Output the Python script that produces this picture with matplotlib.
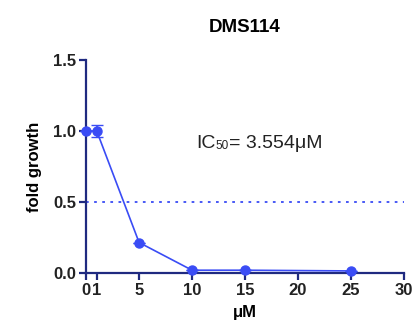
import matplotlib
matplotlib.use("Agg")
import matplotlib.pyplot as plt

plt.rcParams['font.family'] = ['Liberation Sans', 'DejaVu Sans']

conc = [0, 1, 5, 10, 15, 25]
growth = [1.0, 1.0, 0.215, 0.02, 0.02, 0.015]
err = [0.0, 0.04, 0.0, 0.0, 0.0, 0.0]
xticks = [0, 1, 5, 10, 15, 20, 25, 30]
yticks = [0.0, 0.5, 1.0, 1.5]

axis_col = "#1f2a80"
line_col = "#3a4cf5"

fig = plt.figure(figsize=(4.16, 3.22), dpi=100)
ax = fig.add_axes([0.207, 0.152, 0.764, 0.662])

ax.errorbar(conc, growth, yerr=err, color=line_col, marker='o', markersize=6.5,
            linewidth=1.2, capsize=4, elinewidth=1.2, clip_on=False, zorder=3)
ax.plot([0, 30], [0.5, 0.5], linestyle=(0, (1.5, 3)), color=line_col, linewidth=1.3)

ax.set_xlim(0, 30)
ax.set_ylim(0, 1.5)
ax.set_xticks(xticks)
ax.set_yticks(yticks)
ax.set_xticklabels([str(t) for t in xticks])
ax.set_yticklabels([f"{t:.1f}" for t in yticks])

for s in ['top', 'right']:
    ax.spines[s].set_visible(False)
for s in ['left', 'bottom']:
    ax.spines[s].set_color(axis_col)
    ax.spines[s].set_linewidth(1.6)

ax.tick_params(axis='both', colors=axis_col, width=1.6, length=5, direction='out',
               labelsize=12, labelcolor='#222222', pad=2)
for lab in ax.get_xticklabels() + ax.get_yticklabels():
    lab.set_fontweight('bold')

ax.set_xlabel("μM", fontsize=12, fontweight='bold', labelpad=5)
ax.set_ylabel("fold growth", fontsize=12, fontweight='bold', labelpad=8)
ax.set_title("DMS114", fontsize=13.5, fontweight='bold', pad=20)

# IC50 annotation, built from pieces so the subscript stays small
t1 = ax.text(10.4, 0.88, "IC", fontsize=14, color='#222222')
t2 = ax.annotate("50", xy=(1, 0), xycoords=t1, fontsize=8.5, color='#222222',
                 va='bottom', ha='left')
t3 = ax.annotate("= 3.554μM", xy=(1, 0), xycoords=t2, fontsize=14, color='#222222',
                 va='bottom', ha='left')

fig.savefig("out.png", dpi=100)
